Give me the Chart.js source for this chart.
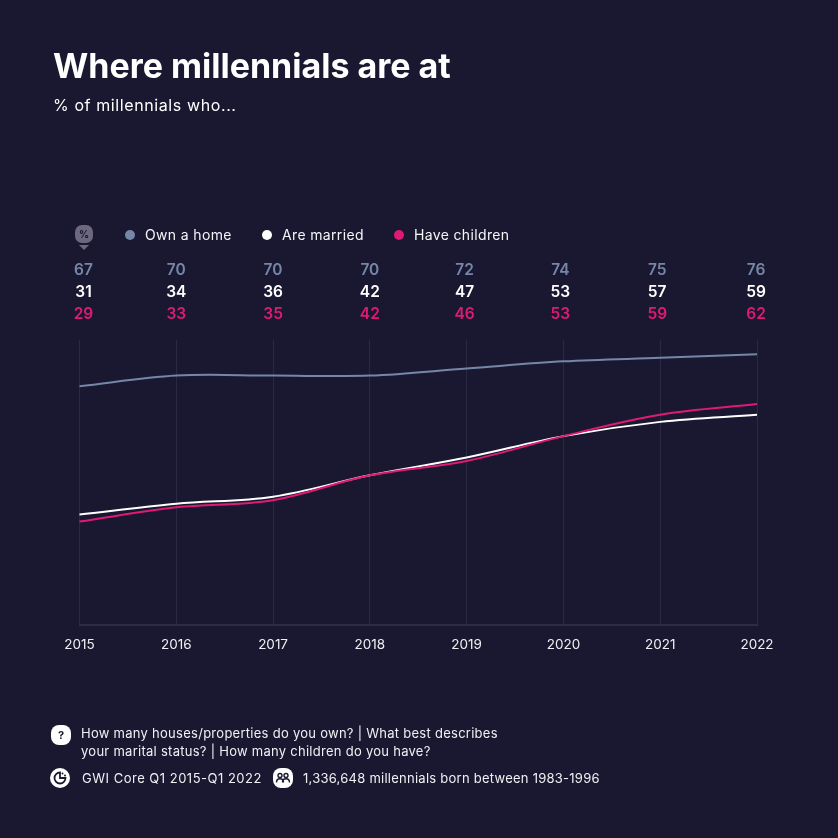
<!DOCTYPE html>
<html>
<head>
<meta charset="utf-8">
<title>Where millennials are at</title>
<script src="https://cdn.jsdelivr.net/npm/chart.js@4.4.0/dist/chart.umd.min.js"></script>
<style>
  * { margin: 0; padding: 0; box-sizing: border-box; }
  html, body { width: 838px; height: 838px; overflow: hidden; background: #1a1830; }
  body { position: relative; color: #fff; font-family: Inter, Lato, sans-serif; }
  canvas { position: absolute; left: 0; top: 0; }
  .abs { position: absolute; white-space: nowrap; }
  h1 { left: 53px; top: 45px; font-size: 34px; line-height: 42px; font-weight: 700; }
  .subtitle { left: 53px; top: 95px; font-size: 16px; line-height: 20px; letter-spacing: 0.6px; }
  .legend { font-size: 14px; line-height: 18px; top: 226px; color: #f4f4f7; letter-spacing: 0.35px; }
  .dot { position: absolute; top: 230px; width: 10px; height: 10px; border-radius: 50%; }
  .note { font-size: 13px; line-height: 18px; color: #f0f0f4; letter-spacing: 0.27px; }
  .icon { position: absolute; width: 20px; height: 20px; }
</style>
</head>
<body>
  <canvas id="chart" width="838" height="838" style="width:838px;height:838px"></canvas>

  <h1 class="abs">Where millennials are at</h1>
  <div class="abs subtitle">% of millennials who...</div>

  <svg class="icon" style="left:74px;top:224px;width:20px;height:28px" viewBox="0 0 20 28">
    <rect x="1" y="1" width="18" height="18" rx="7" fill="#6d6880"/>
    <path d="M5 21h10l-5 5z" fill="#6d6880"/>
    <text x="10" y="14" text-anchor="middle" font-size="10" font-weight="700" font-family="Inter" fill="#1a1830">%</text>
  </svg>

  <span class="dot" id="dot0" style="left:125px"></span>
  <div class="abs legend" id="leg0" style="left:145px"></div>
  <span class="dot" id="dot1" style="left:262px"></span>
  <div class="abs legend" id="leg1" style="left:282px"></div>
  <span class="dot" id="dot2" style="left:394px"></span>
  <div class="abs legend" id="leg2" style="left:414px"></div>

  <svg class="icon" style="left:51px;top:725px" viewBox="0 0 20 20">
    <rect width="20" height="20" rx="8" fill="#fff"/>
    <text x="10" y="14" text-anchor="middle" font-size="11" font-weight="700" font-family="Inter" fill="#1a1830">?</text>
  </svg>
  <div class="abs note" style="left:81px;top:724px">How many houses/properties do you own? | What best describes</div>
  <div class="abs note" style="left:81px;top:742px">your marital status? | How many children do you have?</div>

  <svg class="icon" style="left:50px;top:768px" viewBox="0 0 20 20">
    <circle cx="10" cy="10" r="10" fill="#fff"/>
    <path d="M10 4.5a5.5 5.5 0 1 0 5.5 5.5H10z" fill="none" stroke="#1a1830" stroke-width="1.8"/>
    <circle cx="12.5" cy="5.5" r="1" fill="#1a1830"/><circle cx="15" cy="7.5" r="1" fill="#1a1830"/>
  </svg>
  <div class="abs note" style="left:82px;top:769px;letter-spacing:0.5px">GWI Core Q1 2015-Q1 2022</div>

  <svg class="icon" style="left:273px;top:768px" viewBox="0 0 20 20">
    <rect width="20" height="20" rx="8" fill="#fff"/>
    <circle cx="7" cy="7.5" r="2" fill="none" stroke="#1a1830" stroke-width="1.4"/>
    <circle cx="13" cy="7.5" r="2" fill="none" stroke="#1a1830" stroke-width="1.4"/>
    <path d="M3.5 14.5c0-5 7-5 7 0M9.5 14.5c0-5 7-5 7 0" fill="none" stroke="#1a1830" stroke-width="1.4"/>
  </svg>
  <div class="abs note" style="left:303px;top:769px;letter-spacing:0.25px">1,336,648 millennials born between 1983-1996</div>

  <script>
    const years = ['2015', '2016', '2017', '2018', '2019', '2020', '2021', '2022'];
    const ownHome = [67, 70, 70, 70, 72, 74, 75, 76];
    const married = [31, 34, 36, 42, 47, 53, 57, 59];
    const children = [29, 33, 35, 42, 46, 53, 59, 62];
    const seriesNames = ['Own a home', 'Are married', 'Have children'];
    const seriesColors = ['#7587a6', '#ffffff', '#df1a75'];
    const seriesValues = [ownHome, married, children];

    seriesNames.forEach((name, i) => {
      document.getElementById('leg' + i).textContent = name;
      document.getElementById('dot' + i).style.background = seriesColors[i];
    });

    // rows of numbers above the plot, lined up with the x scale
    const rowShift = [4, 0, 0, 0, -2, -3, -3, -1];
    const valueRows = {
      id: 'valueRows',
      afterDraw(chart) {
        const ctx = chart.ctx;
        const x = chart.scales.x;
        ctx.save();
        ctx.font = '600 15.5px Inter';
        ctx.textAlign = 'center';
        ctx.textBaseline = 'middle';
        seriesValues.forEach((vals, s) => {
          ctx.fillStyle = seriesColors[s];
          vals.forEach((v, i) => {
            ctx.fillText(String(v), x.getPixelForValue(i) + rowShift[i], 270.5 + s * 22);
          });
        });
        ctx.restore();
      }
    };

    new Chart(document.getElementById('chart').getContext('2d'), {
      type: 'line',
      data: {
        labels: years,
        datasets: [
          { label: seriesNames[0], data: ownHome, borderColor: seriesColors[0], borderWidth: 2 },
          { label: seriesNames[2], data: children, borderColor: seriesColors[2], borderWidth: 2 },
          { label: seriesNames[1], data: married, borderColor: seriesColors[1], borderWidth: 2 }
        ]
      },
      options: {
        responsive: false,
        animation: false,
        layout: { padding: { left: 79.5, right: 81, top: 340, bottom: 173 } },
        elements: { point: { radius: 0 }, line: { tension: 0.35, capBezierPoints: true } },
        plugins: { legend: { display: false }, tooltip: { enabled: false } },
        scales: {
          x: {
            grid: { color: '#2a2943', lineWidth: 1, drawTicks: false },
            border: { color: '#2d2c47', width: 2 },
            ticks: { color: '#f0f0f4', font: { family: 'Inter', size: 13.5 }, padding: 12, maxRotation: 0, autoSkip: false }
          },
          y: { display: false, min: 0, max: 80 }
        }
      },
      plugins: [valueRows]
    });
  </script>
</body>
</html>
